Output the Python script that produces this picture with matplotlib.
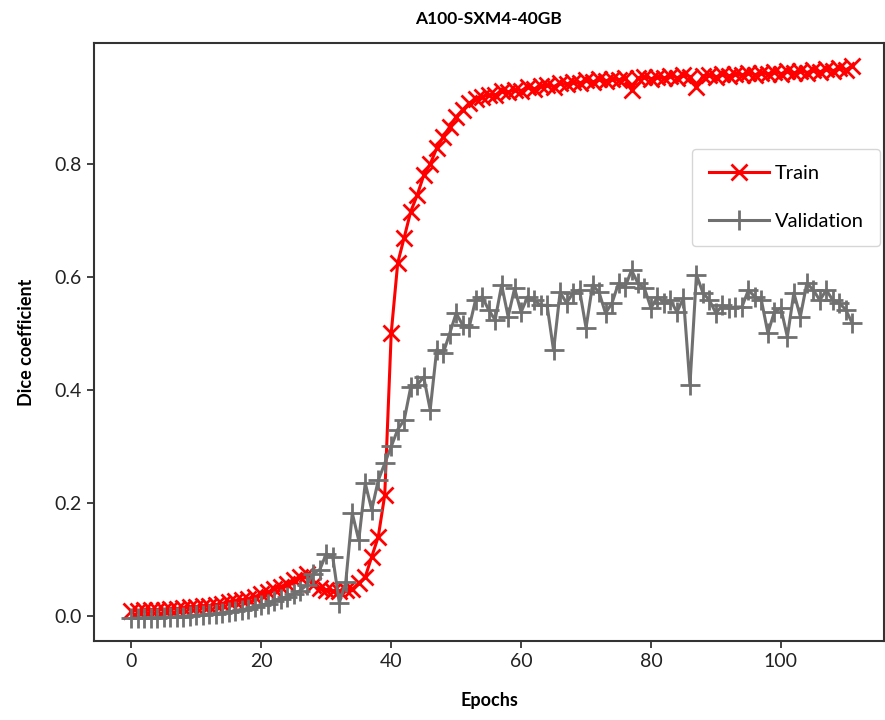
import matplotlib
matplotlib.use("Agg")
import matplotlib.pyplot as plt
import numpy as np

plt.rcParams['font.family'] = ['Lato', 'DejaVu Sans']

# ── Data (one point per epoch) ──
epochs = np.arange(112)

train_dice = [
    0.009, 0.009, 0.010, 0.010, 0.011, 0.011, 0.012, 0.013, 0.014, 0.015,
    0.016, 0.017, 0.018, 0.020, 0.022, 0.024, 0.026, 0.028, 0.030, 0.034,
    0.038, 0.042, 0.047, 0.052, 0.057, 0.063, 0.069, 0.075, 0.055, 0.049,
    0.046, 0.044, 0.044, 0.046, 0.047, 0.058, 0.069, 0.105, 0.140, 0.214,
    0.501, 0.625, 0.670, 0.716, 0.745, 0.780, 0.800, 0.828, 0.848, 0.866,
    0.884, 0.896, 0.908, 0.915, 0.919, 0.922, 0.922, 0.930, 0.927, 0.932,
    0.930, 0.936, 0.933, 0.938, 0.940, 0.937, 0.943, 0.941, 0.945, 0.943,
    0.948, 0.945, 0.950, 0.947, 0.951, 0.949, 0.953, 0.931, 0.952, 0.955,
    0.951, 0.954, 0.952, 0.956, 0.953, 0.957, 0.955, 0.937, 0.956, 0.958,
    0.954, 0.959, 0.956, 0.960, 0.957, 0.961, 0.958, 0.962, 0.959, 0.963,
    0.960, 0.964, 0.961, 0.965, 0.962, 0.966, 0.963, 0.968, 0.965, 0.970,
    0.967, 0.973,
]

val_dice = [
    -0.004, -0.004, -0.003, -0.003, -0.003, -0.002, -0.002, -0.001, -0.001, 0.000,
    0.001, 0.002, 0.003, 0.004, 0.006, 0.007, 0.009, 0.011, 0.013, 0.016,
    0.019, 0.022, 0.026, 0.030, 0.034, 0.039, 0.045, 0.055, 0.075, 0.082,
    0.110, 0.104, 0.023, 0.060, 0.182, 0.134, 0.235, 0.188, 0.240, 0.270,
    0.300, 0.330, 0.347, 0.405, 0.409, 0.423, 0.365, 0.471, 0.465, 0.500,
    0.536, 0.515, 0.511, 0.560, 0.565, 0.542, 0.524, 0.586, 0.530, 0.580,
    0.538, 0.565, 0.559, 0.550, 0.550, 0.470, 0.573, 0.554, 0.572, 0.577,
    0.510, 0.586, 0.573, 0.536, 0.554, 0.589, 0.582, 0.612, 0.589, 0.580,
    0.545, 0.565, 0.554, 0.559, 0.538, 0.563, 0.409, 0.604, 0.572, 0.559,
    0.536, 0.550, 0.545, 0.547, 0.547, 0.577, 0.565, 0.559, 0.501, 0.538,
    0.545, 0.494, 0.572, 0.530, 0.589, 0.577, 0.559, 0.577, 0.559, 0.554,
    0.542, 0.518,
]

fig = plt.figure(figsize=(8.85, 7.2), dpi=100)
ax = fig.add_axes([0.106, 0.110, 0.893, 0.830])

ax.plot(epochs, train_dice, color='#ff0000', lw=2.2, marker='x', ms=11, mew=2.0,
        label='Train')
ax.plot(epochs, val_dice, color='#707070', lw=2.2, marker='+', ms=15, mew=2.0,
        label='Validation')

ax.set_xlim(-5.8, 115.9)
ax.set_ylim(-0.044, 1.014)
ax.set_xticks([0, 20, 40, 60, 80, 100])
ax.set_yticks([0.0, 0.2, 0.4, 0.6, 0.8])
ax.set_yticklabels(['0.0', '0.2', '0.4', '0.6', '0.8'])
ax.tick_params(labelsize=14, length=5, width=1.2, colors='#222222')

for sp in ax.spines.values():
    sp.set_linewidth(1.5)
    sp.set_color('#333333')

ax.set_title('A100-SXM4-40GB', fontsize=12.5, fontweight='bold', pad=14)
ax.set_xlabel('Epochs', fontsize=13, fontweight='bold', labelpad=16)
ax.set_ylabel('Dice coefficient', fontsize=13, fontweight='bold', labelpad=14)

ax.legend(loc='upper right', bbox_to_anchor=(1.0, 0.83), borderaxespad=0.2,
          fontsize=14.5, frameon=True, edgecolor='#cccccc', handlelength=3.0,
          handletextpad=0.3, labelspacing=1.55, borderpad=0.8)

fig.savefig('out.png', dpi=100)
